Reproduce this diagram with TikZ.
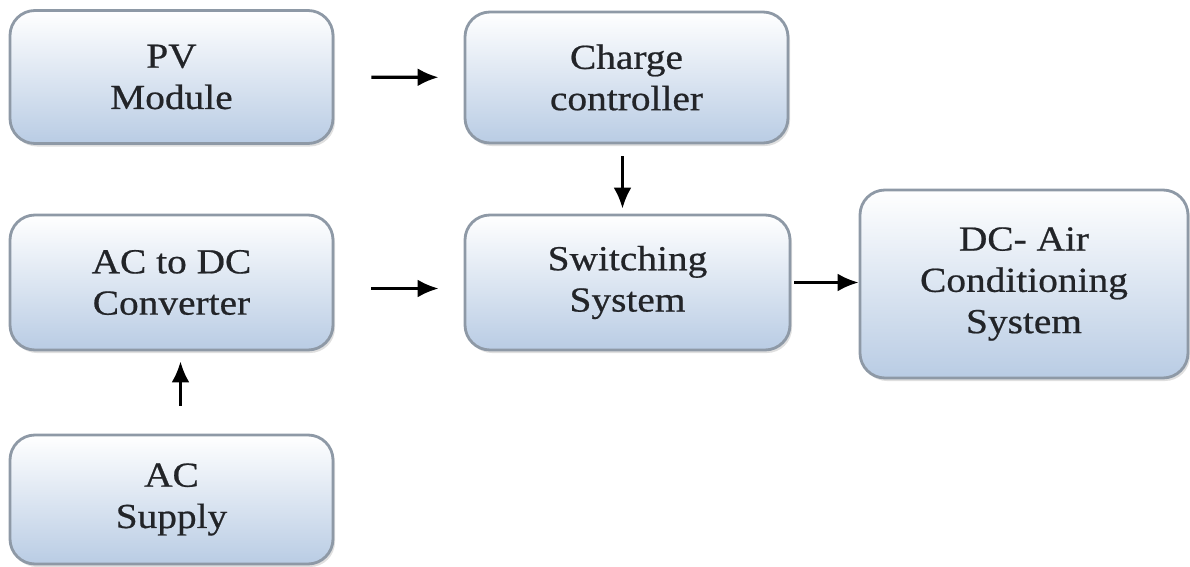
\documentclass[tikz,border=0pt]{standalone}
\usepackage{fontspec}
\setmainfont{Liberation Serif}[FakeStretch=1.12,FakeBold=0.6]
\usepackage{tikz}
\usetikzlibrary{calc}
\usetikzlibrary{positioning}
\usetikzlibrary{arrows.meta}
\usetikzlibrary{shadows}
\definecolor{boxBorder}{HTML}{8E99A6}
\definecolor{boxBottom}{HTML}{B9CCE4}
\definecolor{boxText}{HTML}{222428}
\tikzset{
  blockNode/.style={%
    rectangle, rounded corners=0.5cm, draw=boxBorder, line width=1.6pt,
    top color=white, bottom color=boxBottom,
    drop shadow={shadow xshift=0.04cm, shadow yshift=-0.06cm, opacity=0.25},
    align=center, text=boxText,
    font=\fontsize{20}{23.5}\selectfont,
  },
  flowArrow/.style={%
    -{Latex[length=0.42cm,width=0.36cm]}, line width=1.8pt,
  }
}

\begin{document}
\begin{tikzpicture}

          \useasboundingbox (0,0) rectangle (23.8,-11.34);

          \node[blockNode,minimum width=6.46cm,minimum height=2.66cm] (pvModule) at (3.43,-1.54) {PV\\Module} ;
          \node[blockNode,minimum width=6.46cm,minimum height=2.62cm] (chargeCtrl) at (12.53,-1.55) {Charge\\controller} ;
          \node[blockNode,minimum width=6.46cm,minimum height=2.70cm] (acDcConv) at (3.43,-5.65) {AC to DC\\Converter} ;
          \node[blockNode,minimum width=6.50cm,minimum height=2.70cm] (switchSys) at (12.55,-5.65) {Switching\\System} ;
          \node[blockNode,minimum width=6.56cm,minimum height=3.76cm] (dcAirCond) at (20.48,-5.68) {DC- Air\\Conditioning\\System} ;
          \node[blockNode,minimum width=6.46cm,minimum height=2.58cm] (acSupply) at (3.43,-9.99) {AC\\Supply} ;

          \draw[flowArrow,shorten <=0.74cm,shorten >=0.5cm] (pvModule) -- (chargeCtrl) ;
          \draw[flowArrow,shorten <=0.24cm,shorten >=0.1cm] ([xshift=-0.08cm]chargeCtrl.south) -- ([xshift=-0.1cm]switchSys.north) ;
          \draw[flowArrow,shorten <=0.74cm,shorten >=0.5cm] ([yshift=-0.12cm]acDcConv.east) -- ([yshift=-0.12cm]switchSys.west) ;
          \draw[flowArrow,shorten <=0.06cm] (switchSys.east) -- (switchSys.east -| dcAirCond.west) ;
          \draw[flowArrow,shorten <=0.56cm,shorten >=0.2cm] ([xshift=0.18cm]acSupply.north) -- ([xshift=0.18cm]acDcConv.south) ;

\end{tikzpicture}
\end{document}
